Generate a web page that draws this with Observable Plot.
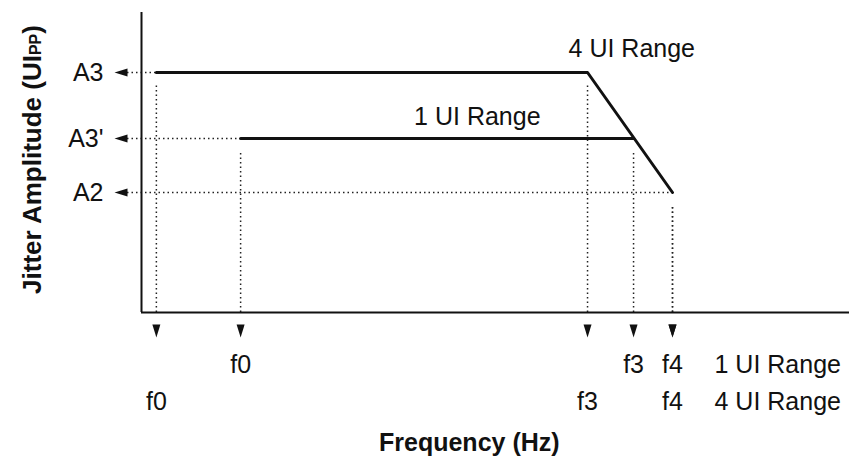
<!DOCTYPE html>
<html><head><meta charset="utf-8">
<script src="https://cdn.jsdelivr.net/npm/d3@7"></script>
<script src="https://cdn.jsdelivr.net/npm/@observablehq/plot@0.6"></script>
<style>html,body{margin:0;padding:0;background:#fff}</style>
</head><body><div id="chart"></div>
<script>
// Amplitude levels (relative units, axis 0..100)
const levelNames = ["A3", "A3'", "A2"];
const levelValues = [80, 58, 40];
const levelReach = [2.1, 14, 75]; // frequency where each level's dotted guide ends

// 4 UI Range curve (frequency, amplitude)
const ui4Freq = [2.1, 63, 75];
const ui4Amp = [80, 80, 40];
// 1 UI Range curve
const ui1Freq = [14, 69.5];
const ui1Amp = [58, 58];

// Tick labels on the frequency axis
const ui1TickNames = ["f0", "f3", "f4"];
const ui1TickFreq = [14, 69.5, 75];
const ui4TickNames = ["f0", "f3", "f4"];
const ui4TickFreq = [2.1, 63, 75];
const ui1TickAmp = [58, 58, 40];
const ui4TickAmp = [80, 80, 40];

const curve4 = ui4Freq.map((f, i) => ({f, a: ui4Amp[i]}));
const curve1 = ui1Freq.map((f, i) => ({f, a: ui1Amp[i]}));
const levels = levelNames.map((n, i) => ({n, a: levelValues[i], reach: levelReach[i]}));
const ticks1 = ui1TickNames.map((n, i) => ({n, f: ui1TickFreq[i], a: ui1TickAmp[i]}));
const ticks4 = ui4TickNames.map((n, i) => ({n, f: ui4TickFreq[i], a: ui4TickAmp[i]}));
const drops = [...ticks4, ...ticks1];

const downArrow = {draw(c) { c.moveTo(-4, -13); c.lineTo(4, -13); c.lineTo(0, 0); c.closePath(); }};
const leftArrow = {draw(c) { c.moveTo(0, 0); c.lineTo(13, -4); c.lineTo(13, 4); c.closePath(); }};

const dotted = {stroke: "#222", strokeWidth: 1.5, strokeDasharray: "1.5,3"};
const FONT = 25;

const chart = Plot.plot({
  width: 849, height: 460,
  marginLeft: 141, marginRight: 0, marginTop: 12, marginBottom: 148,
  style: {fontFamily: "'Liberation Sans', Arial, Helvetica, sans-serif", fontSize: FONT + "px", background: "#fff", color: "#111"},
  x: {domain: [0, 100], axis: null},
  y: {domain: [0, 100], axis: null},
  marks: [
    // dotted guides
    Plot.ruleY(levels, {y: "a", x1: 0, x2: "reach", insetLeft: -14, ...dotted}),
    Plot.ruleX(drops, {x: "f", y1: 0, y2: "a", insetBottom: -13, ...dotted}),
    // axes
    Plot.ruleX([0], {y1: 0, y2: 100, stroke: "#111", strokeWidth: 2}),
    Plot.ruleY([0], {x1: 0, x2: 100, stroke: "#111", strokeWidth: 2}),
    // curves
    Plot.line(curve4, {x: "f", y: "a", stroke: "#111", strokeWidth: 3}),
    Plot.line(curve1, {x: "f", y: "a", stroke: "#111", strokeWidth: 3}),
    // arrows
    Plot.dot(drops, {x: "f", y: 0, dy: 25, symbol: downArrow, fill: "#111", stroke: "none"}),
    Plot.dot(levels, {x: 0, y: "a", dx: -27, symbol: leftArrow, fill: "#111", stroke: "none"}),
    // level labels
    Plot.text(levels, {x: 0, y: "a", text: "n", dx: -38, textAnchor: "end", fontSize: FONT}),
    // frequency tick labels
    Plot.text(ticks1, {x: "f", y: 0, text: "n", dy: 52, fontSize: FONT}),
    Plot.text(ticks4, {x: "f", y: 0, text: "n", dy: 89, fontSize: FONT}),
    Plot.text(["1 UI Range"], {x: ui1TickFreq[2], y: 0, text: d => d, dx: 42, dy: 52, textAnchor: "start", fontSize: FONT}),
    Plot.text(["4 UI Range"], {x: ui4TickFreq[2], y: 0, text: d => d, dx: 42, dy: 89, textAnchor: "start", fontSize: FONT}),
    // curve labels
    Plot.text(["4 UI Range"], {x: ui4Freq[1], y: ui4Amp[1], text: d => d, dx: -19, dy: -24, textAnchor: "start", fontSize: FONT}),
    Plot.text(["1 UI Range"], {x: ui1Freq[1], y: ui1Amp[1], text: d => d, dx: -93, dy: -22, textAnchor: "end", fontSize: FONT}),
    // axis titles
    Plot.text(["Frequency (Hz)"], {x: 46.3, y: 0, text: d => d, dy: 130, fontWeight: "bold", fontSize: FONT}),
    Plot.text(["Jitter Amplitude (UI"], {x: 0, y: 51, text: d => d, dx: -109, rotate: -90, fontWeight: "bold", fontSize: 26, className: "ylabel"})
  ]
});

// add the small "PP" subscript to the y-axis title
const yt = d3.select(chart).select(".ylabel text");
if (!yt.empty()) {
  yt.text(null);
  yt.append("tspan").text("Jitter Amplitude (UI");
  yt.append("tspan").attr("font-size", 16).text("PP");
  yt.append("tspan").text(")");
}
document.getElementById("chart").append(chart);
</script>
</body></html>
